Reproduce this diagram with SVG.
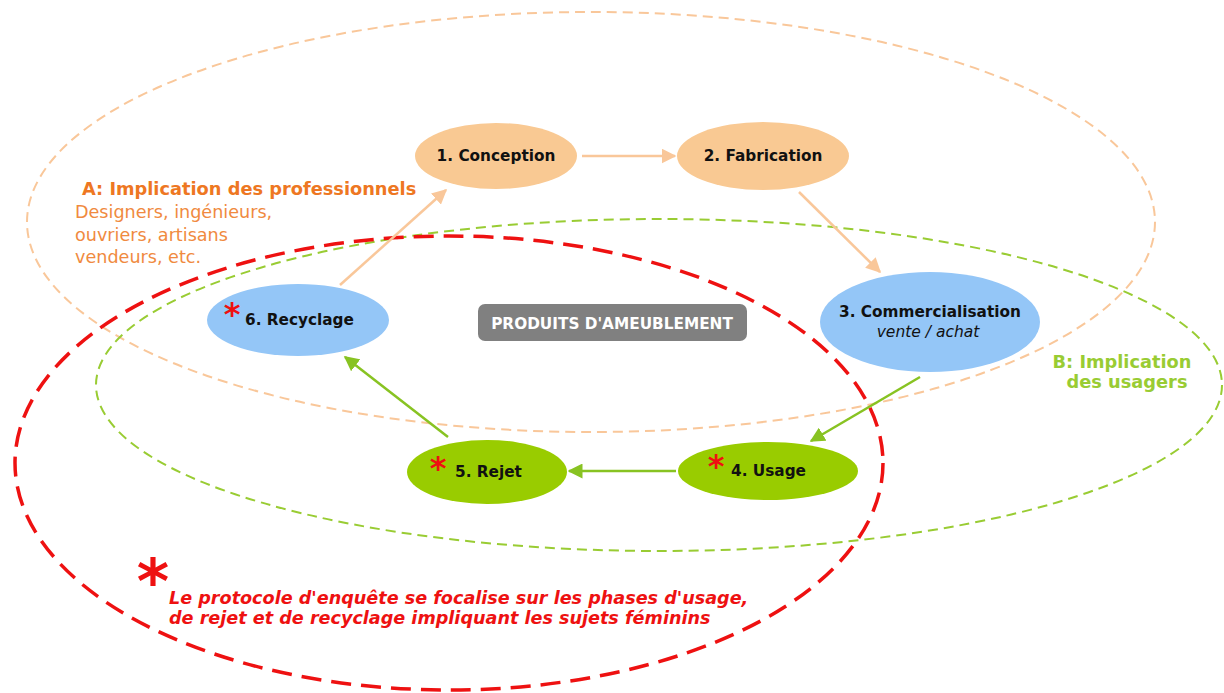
<svg xmlns="http://www.w3.org/2000/svg" width="1224" height="693" viewBox="0 0 1224 693">
<style>
.zone{fill:none}
.zA{stroke:#F9C79A;stroke-width:2;stroke-dasharray:10 6}
.zB{stroke:#99CC33;stroke-width:2;stroke-dasharray:10 6}
.zR{stroke:#EE1111;stroke-width:3.5;stroke-dasharray:20 10}
.peach{fill:#F9C993}
.blue{fill:#94C6F7}
.green{fill:#99CC00}
.lbl{font-family:"DejaVu Sans",Verdana,sans-serif;font-weight:bold;font-size:15.3px;fill:#111}
.star{font-family:"DejaVu Sans",sans-serif;font-weight:bold;fill:#EE1111}
.cA{stroke:#F9C79A;stroke-width:2.5;fill:none}
.cB{stroke:#88C322;stroke-width:2.5;fill:none}
.t{font-family:"DejaVu Sans",Verdana,sans-serif}
</style>
<defs>
<marker id="ahA" viewBox="0 0 10 10" refX="9" refY="5" markerWidth="6" markerHeight="6" orient="auto" markerUnits="strokeWidth">
<path d="M0,0 L10,5 L0,10 z" fill="#F9C79A"/>
</marker>
<marker id="ahB" viewBox="0 0 10 10" refX="9" refY="5" markerWidth="6" markerHeight="6" orient="auto" markerUnits="strokeWidth">
<path d="M0,0 L10,5 L0,10 z" fill="#88C322"/>
</marker>
</defs>
<rect width="1224" height="693" fill="#fff"/>
<g id="zones">
<ellipse class="zone zA" cx="591" cy="222" rx="564" ry="210"/>
<ellipse class="zone zB" cx="659" cy="385" rx="563" ry="166"/>
<ellipse class="zone zR" cx="449" cy="463" rx="434" ry="227"/>
</g>
<g id="connectors">
<line class="cA" x1="582" y1="156" x2="675" y2="156" marker-end="url(#ahA)"/>
<line class="cA" x1="799" y1="192" x2="880" y2="272" marker-end="url(#ahA)"/>
<line class="cB" x1="920" y1="377" x2="811" y2="441" marker-end="url(#ahB)"/>
<line class="cB" x1="676" y1="471" x2="569" y2="471" marker-end="url(#ahB)"/>
<line class="cB" x1="448" y1="437" x2="345" y2="357" marker-end="url(#ahB)"/>
<line class="cA" x1="340" y1="285" x2="446" y2="190" marker-end="url(#ahA)"/>
</g>
<g id="n1">
<ellipse class="peach" cx="496" cy="156" rx="81" ry="33"/>
<text class="lbl" x="496" y="161" text-anchor="middle">1. Conception</text>
</g>
<g id="n2">
<ellipse class="peach" cx="763" cy="156" rx="86" ry="34"/>
<text class="lbl" x="763" y="161" text-anchor="middle">2. Fabrication</text>
</g>
<g id="n3">
<ellipse class="blue" cx="930" cy="322" rx="110" ry="50"/>
<text class="lbl" x="930" y="317" text-anchor="middle">3. Commercialisation</text>
<text class="t" x="928" y="337" text-anchor="middle" font-size="15.5" font-style="italic" fill="#111">vente / achat</text>
</g>
<g id="n4">
<ellipse class="green" cx="768" cy="471" rx="90" ry="29"/>
<text class="star" x="716" y="477" font-size="32" text-anchor="middle">*</text>
<text class="lbl" x="731" y="476">4. Usage</text>
</g>
<g id="n5">
<ellipse class="green" cx="487" cy="472" rx="80" ry="32"/>
<text class="star" x="438" y="479" font-size="32" text-anchor="middle">*</text>
<text class="lbl" x="455" y="477">5. Rejet</text>
</g>
<g id="n6">
<ellipse class="blue" cx="298" cy="320" rx="91" ry="36"/>
<text class="star" x="232" y="325" font-size="32" text-anchor="middle">*</text>
<text class="lbl" x="245" y="325">6. Recyclage</text>
</g>
<g id="title">
<rect x="478" y="304" width="269" height="37" rx="7" fill="#808080"/>
<text class="t" x="612" y="329" text-anchor="middle" font-size="15.3" font-weight="bold" fill="#fff">PRODUITS D'AMEUBLEMENT</text>
</g>
<g id="labelA">
<text class="t" x="82" y="195" font-size="17.8" font-weight="bold" fill="#EE7722">A: Implication des professionnels</text>
<text class="t" x="75" y="218" font-size="17.6" fill="#F08A40">Designers, ingénieurs,</text>
<text class="t" x="75" y="241" font-size="17.6" fill="#F08A40">ouvriers, artisans</text>
<text class="t" x="75" y="263" font-size="17.6" fill="#F08A40">vendeurs, etc.</text>
</g>
<g id="labelB">
<text class="t" x="1122" y="368" font-size="17.8" font-weight="bold" fill="#99CC33" text-anchor="middle">B: Implication</text>
<text class="t" x="1127" y="388" font-size="17.8" font-weight="bold" fill="#99CC33" text-anchor="middle">des usagers</text>
</g>
<g id="note">
<text class="star" x="153" y="603" font-size="62" text-anchor="middle">*</text>
<text class="t" x="169" y="604" font-size="17.6" font-weight="bold" font-style="italic" fill="#EE1111">Le protocole d'enquête se focalise sur les phases d'usage,</text>
<text class="t" x="169" y="624" font-size="17.6" font-weight="bold" font-style="italic" fill="#EE1111">de rejet et de recyclage impliquant les sujets féminins</text>
</g>
</svg>
